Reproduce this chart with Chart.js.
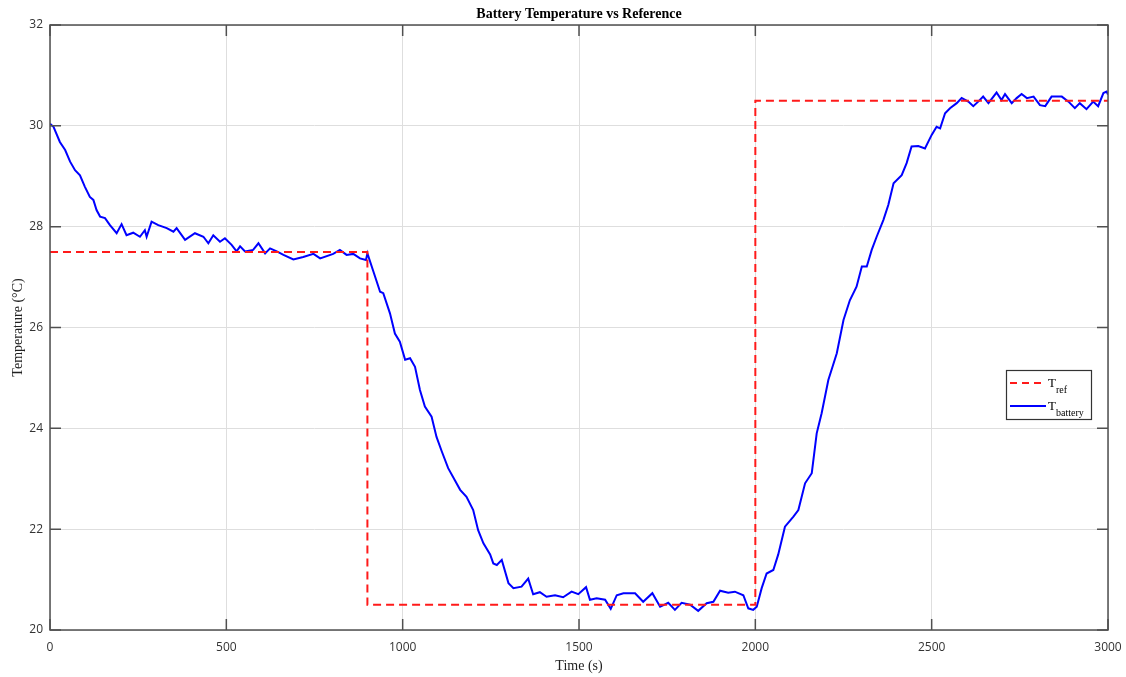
<!DOCTYPE html>
<html>
<head>
<meta charset="utf-8">
<script src="https://cdn.jsdelivr.net/npm/chart.js@4.4.1/dist/chart.umd.min.js"></script>
<style>
  html, body { margin: 0; padding: 0; background: #fff; }
  #wrap { width: 1126px; height: 677px; }
</style>
</head>
<body>
<div id="wrap"><canvas id="chart"></canvas></div>
<script>
// reference setpoint (step changes)
let refTime = [0, 900, 900, 2000, 2000, 3000];
let refTemp = [27.5, 27.5, 20.5, 20.5, 30.5, 30.5];

// battery temperature
let batteryTime = [
  0, 10, 28, 43, 57, 71, 85, 99, 113, 123, 132, 142, 156, 170, 189, 203, 217, 236, 255, 269,
  274, 288, 307, 331, 350, 359, 383, 411, 435, 449, 463, 482, 496, 515, 529, 539, 553, 576, 591, 610,
  624, 643, 662, 690, 718, 747, 766, 803, 822, 841, 860, 879, 896, 900, 917, 936, 945, 964, 978, 992,
  1007, 1021, 1035, 1049, 1063, 1082, 1096, 1111, 1129, 1148, 1163, 1181, 1200, 1214, 1229, 1248, 1257, 1267, 1281, 1300,
  1314, 1337, 1356, 1370, 1389, 1408, 1432, 1455, 1479, 1498, 1520, 1531, 1550, 1574, 1590, 1607, 1626, 1659, 1682, 1708,
  1730, 1753, 1772, 1791, 1815, 1838, 1862, 1881, 1900, 1923, 1942, 1966, 1980, 1994, 2004, 2018, 2032, 2051, 2065, 2084,
  2108, 2122, 2141, 2160, 2174, 2188, 2207, 2231, 2250, 2268, 2287, 2302, 2316, 2330, 2344, 2363, 2377, 2392, 2415, 2429,
  2443, 2462, 2481, 2500, 2514, 2524, 2538, 2552, 2571, 2585, 2604, 2618, 2632, 2646, 2661, 2684, 2698, 2708, 2727, 2741,
  2755, 2770, 2789, 2807, 2822, 2840, 2869, 2888, 2906, 2920, 2939, 2958, 2972, 2987, 2996, 3000
];
let batteryTemp = [
  30.04, 29.98, 29.68, 29.52, 29.29, 29.12, 29.02, 28.79, 28.59, 28.53, 28.33, 28.20, 28.17, 28.03, 27.87, 28.05, 27.83, 27.88, 27.80, 27.93,
  27.80, 28.10, 28.03, 27.97, 27.90, 27.97, 27.74, 27.87, 27.80, 27.67, 27.83, 27.70, 27.77, 27.64, 27.51, 27.61, 27.51, 27.54, 27.67, 27.47,
  27.57, 27.51, 27.44, 27.35, 27.40, 27.46, 27.37, 27.46, 27.54, 27.44, 27.46, 27.37, 27.34, 27.47, 27.11, 26.71, 26.68, 26.28, 25.88, 25.72,
  25.36, 25.39, 25.22, 24.76, 24.43, 24.23, 23.83, 23.54, 23.21, 22.97, 22.78, 22.64, 22.38, 21.98, 21.72, 21.50, 21.32, 21.29, 21.39, 20.93,
  20.83, 20.86, 21.02, 20.71, 20.75, 20.66, 20.69, 20.65, 20.76, 20.71, 20.85, 20.60, 20.63, 20.60, 20.42, 20.69, 20.73, 20.73, 20.56, 20.73,
  20.46, 20.54, 20.40, 20.54, 20.50, 20.38, 20.53, 20.56, 20.78, 20.74, 20.76, 20.69, 20.43, 20.40, 20.46, 20.83, 21.12, 21.19, 21.50, 22.05,
  22.25, 22.38, 22.91, 23.11, 23.90, 24.30, 24.96, 25.49, 26.15, 26.54, 26.81, 27.21, 27.21, 27.54, 27.80, 28.13, 28.43, 28.86, 29.02, 29.26,
  29.59, 29.60, 29.55, 29.82, 29.98, 29.95, 30.25, 30.35, 30.45, 30.55, 30.48, 30.39, 30.48, 30.58, 30.45, 30.66, 30.51, 30.63, 30.45, 30.55,
  30.63, 30.55, 30.58, 30.41, 30.39, 30.58, 30.58, 30.48, 30.35, 30.45, 30.33, 30.48, 30.39, 30.65, 30.68, 30.62
];

let xTicks = [0, 500, 1000, 1500, 2000, 2500, 3000];
let yTicks = [20, 22, 24, 26, 28, 30, 32];

function toPoints(xs, ys) {
  return xs.map((x, i) => ({ x: x, y: ys[i] }));
}

let serif = "'Liberation Serif', 'Times New Roman', serif";
let sans = "'Open Sans', 'DejaVu Sans', sans-serif";

// box around the plot, inward ticks, title and legend with subscripts
let matlabLook = {
  id: "matlabLook",
  afterDraw(chart) {
    let ctx = chart.ctx;
    let a = chart.chartArea;
    let xs = chart.scales.x;
    let ys = chart.scales.y;
    ctx.save();
    ctx.strokeStyle = "#505050";
    ctx.lineWidth = 1.5;
    ctx.strokeRect(a.left, a.top, a.right - a.left, a.bottom - a.top);
    ctx.beginPath();
    let len = 11;
    xTicks.forEach(v => {
      let px = xs.getPixelForValue(v);
      ctx.moveTo(px, a.bottom); ctx.lineTo(px, a.bottom - len);
      ctx.moveTo(px, a.top); ctx.lineTo(px, a.top + len);
    });
    yTicks.forEach(v => {
      let py = ys.getPixelForValue(v);
      ctx.moveTo(a.left, py); ctx.lineTo(a.left + len, py);
      ctx.moveTo(a.right, py); ctx.lineTo(a.right - len, py);
    });
    ctx.stroke();

    // title
    ctx.fillStyle = "#000";
    ctx.font = "bold 14px " + serif;
    ctx.textAlign = "center";
    ctx.textBaseline = "middle";
    ctx.fillText("Battery Temperature vs Reference", (a.left + a.right) / 2, 14);

    // legend
    let bx = 1006.5, by = 370.5, bw = 85, bh = 49;
    ctx.fillStyle = "#fff";
    ctx.fillRect(bx, by, bw, bh);
    ctx.strokeStyle = "#333";
    ctx.lineWidth = 1.2;
    ctx.strokeRect(bx, by, bw, bh);

    ctx.lineWidth = 2;
    ctx.strokeStyle = "#ff1a1a";
    ctx.setLineDash([7, 5]);
    ctx.beginPath(); ctx.moveTo(1010, 383); ctx.lineTo(1046, 383); ctx.stroke();
    ctx.setLineDash([]);
    ctx.strokeStyle = "#0000ff";
    ctx.beginPath(); ctx.moveTo(1010, 406); ctx.lineTo(1046, 406); ctx.stroke();

    ctx.fillStyle = "#000";
    ctx.textAlign = "left";
    ctx.textBaseline = "alphabetic";
    ctx.font = "13px " + serif;
    ctx.fillText("T", 1048, 387);
    ctx.fillText("T", 1048, 410);
    ctx.font = "10px " + serif;
    ctx.fillText("ref", 1056, 393);
    ctx.fillText("battery", 1056, 416);
    ctx.restore();
  }
};

new Chart(document.getElementById("chart"), {
  type: "line",
  data: {
    datasets: [
      {
        label: "T_ref",
        data: toPoints(refTime, refTemp),
        borderColor: "#ff1a1a",
        borderWidth: 2,
        borderDash: [8, 5],
        pointRadius: 0,
        fill: false,
        tension: 0
      },
      {
        label: "T_battery",
        data: toPoints(batteryTime, batteryTemp),
        borderColor: "#0000ff",
        borderWidth: 2,
        pointRadius: 0,
        fill: false,
        tension: 0
      }
    ]
  },
  options: {
    responsive: true,
    maintainAspectRatio: false,
    animation: false,
    layout: { padding: { left: 0, right: 18, top: 25, bottom: 0 } },
    plugins: {
      legend: { display: false },
      title: { display: false },
      tooltip: { enabled: false }
    },
    scales: {
      x: {
        type: "linear",
        min: 0,
        max: 3000,
        afterBuildTicks: s => { s.ticks = xTicks.map(v => ({ value: v })); },
        afterFit: s => { s.height = 47; s.paddingRight = 0; s.paddingLeft = 0; },
        grid: { color: "#dedede", lineWidth: 1, drawTicks: false },
        border: { display: false },
        ticks: { padding: 10, color: "#333", font: { family: sans, size: 12 }, maxRotation: 0, callback: v => String(v) },
        title: { display: true, text: "Time (s)", color: "#222", font: { family: serif, size: 14 }, padding: { top: 0, bottom: 2 } }
      },
      y: {
        min: 20,
        max: 32,
        afterBuildTicks: s => { s.ticks = yTicks.map(v => ({ value: v })); },
        afterFit: s => { s.width = 50; s.paddingTop = 0; s.paddingBottom = 0; },
        grid: { color: "#dedede", lineWidth: 1, drawTicks: false },
        border: { display: false },
        ticks: { padding: 7, color: "#333", font: { family: sans, size: 12 }, callback: v => String(v) },
        title: { display: true, text: "Temperature (°C)", color: "#222", font: { family: serif, size: 14 }, padding: { top: 10, bottom: 0 } }
      }
    }
  },
  plugins: [matlabLook]
});
</script>
</body>
</html>
